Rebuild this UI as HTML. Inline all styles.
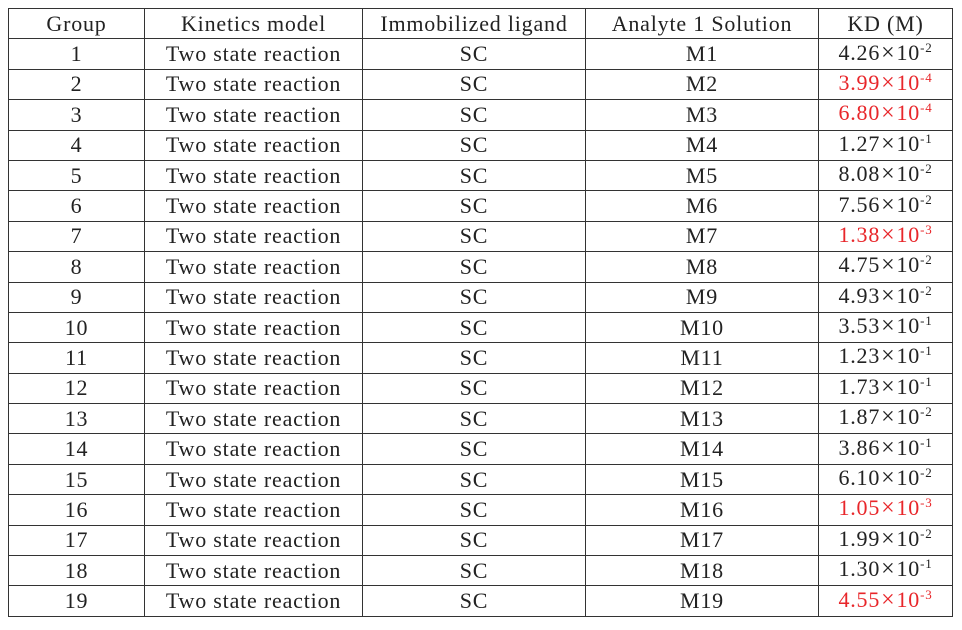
<!DOCTYPE html>
<html><head><meta charset="utf-8"><style>
html,body{margin:0;padding:0;background:#fff;width:962px;height:630px;overflow:hidden}
table{position:absolute;left:8px;top:8px;width:944px;table-layout:fixed;border-collapse:collapse;font-family:"Liberation Serif",serif;font-size:22px;color:#222;letter-spacing:0.8px}
tr{height:30.4px}
td{border:1.5px solid #333;padding:0;text-align:center;line-height:20px;height:27px}
.r{color:#e8262a}
.x{font-size:24px;margin:0 1px}
sup{font-size:13px;vertical-align:0;position:relative;top:-8px}
</style></head><body>
<table>
<colgroup><col style="width:136px"><col style="width:218px"><col style="width:223px"><col style="width:233px"><col style="width:134px"></colgroup>
<tr><td>Group</td><td>Kinetics model</td><td>Immobilized ligand</td><td>Analyte 1 Solution</td><td>KD (M)</td></tr>
<tr><td>1</td><td>Two state reaction</td><td>SC</td><td>M1</td><td>4.26<span class="x">×</span>10<sup>-2</sup></td></tr>
<tr><td>2</td><td>Two state reaction</td><td>SC</td><td>M2</td><td class="r">3.99<span class="x">×</span>10<sup>-4</sup></td></tr>
<tr><td>3</td><td>Two state reaction</td><td>SC</td><td>M3</td><td class="r">6.80<span class="x">×</span>10<sup>-4</sup></td></tr>
<tr><td>4</td><td>Two state reaction</td><td>SC</td><td>M4</td><td>1.27<span class="x">×</span>10<sup>-1</sup></td></tr>
<tr><td>5</td><td>Two state reaction</td><td>SC</td><td>M5</td><td>8.08<span class="x">×</span>10<sup>-2</sup></td></tr>
<tr><td>6</td><td>Two state reaction</td><td>SC</td><td>M6</td><td>7.56<span class="x">×</span>10<sup>-2</sup></td></tr>
<tr><td>7</td><td>Two state reaction</td><td>SC</td><td>M7</td><td class="r">1.38<span class="x">×</span>10<sup>-3</sup></td></tr>
<tr><td>8</td><td>Two state reaction</td><td>SC</td><td>M8</td><td>4.75<span class="x">×</span>10<sup>-2</sup></td></tr>
<tr><td>9</td><td>Two state reaction</td><td>SC</td><td>M9</td><td>4.93<span class="x">×</span>10<sup>-2</sup></td></tr>
<tr><td>10</td><td>Two state reaction</td><td>SC</td><td>M10</td><td>3.53<span class="x">×</span>10<sup>-1</sup></td></tr>
<tr><td>11</td><td>Two state reaction</td><td>SC</td><td>M11</td><td>1.23<span class="x">×</span>10<sup>-1</sup></td></tr>
<tr><td>12</td><td>Two state reaction</td><td>SC</td><td>M12</td><td>1.73<span class="x">×</span>10<sup>-1</sup></td></tr>
<tr><td>13</td><td>Two state reaction</td><td>SC</td><td>M13</td><td>1.87<span class="x">×</span>10<sup>-2</sup></td></tr>
<tr><td>14</td><td>Two state reaction</td><td>SC</td><td>M14</td><td>3.86<span class="x">×</span>10<sup>-1</sup></td></tr>
<tr><td>15</td><td>Two state reaction</td><td>SC</td><td>M15</td><td>6.10<span class="x">×</span>10<sup>-2</sup></td></tr>
<tr><td>16</td><td>Two state reaction</td><td>SC</td><td>M16</td><td class="r">1.05<span class="x">×</span>10<sup>-3</sup></td></tr>
<tr><td>17</td><td>Two state reaction</td><td>SC</td><td>M17</td><td>1.99<span class="x">×</span>10<sup>-2</sup></td></tr>
<tr><td>18</td><td>Two state reaction</td><td>SC</td><td>M18</td><td>1.30<span class="x">×</span>10<sup>-1</sup></td></tr>
<tr><td>19</td><td>Two state reaction</td><td>SC</td><td>M19</td><td class="r">4.55<span class="x">×</span>10<sup>-3</sup></td></tr>
</table>
</body></html>
